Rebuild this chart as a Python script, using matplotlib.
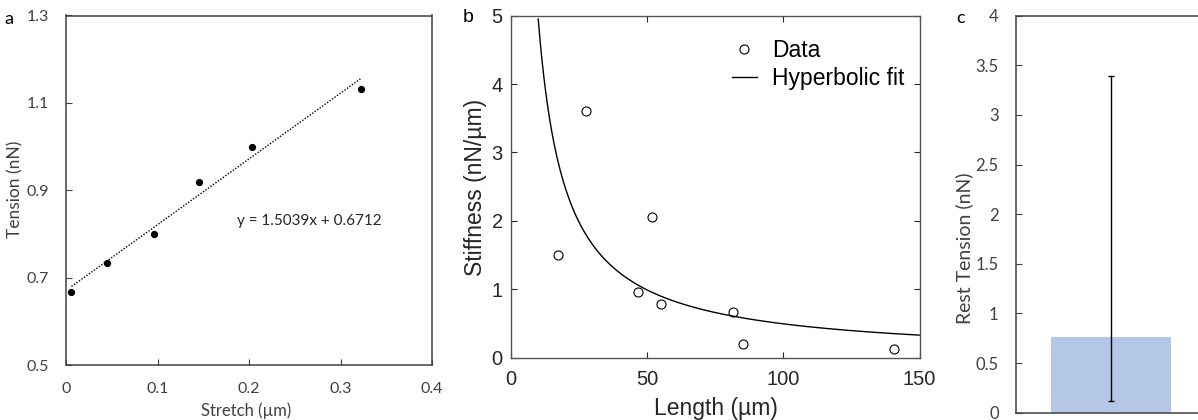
import numpy as np
import matplotlib
matplotlib.use("Agg")
import matplotlib.pyplot as plt

# ---- data ----
# panel a
stretch = [0.006, 0.045, 0.0965, 0.145, 0.203, 0.3225]
tension = [0.667, 0.735, 0.800, 0.919, 1.000, 1.132]
slope_a, intercept_a = 1.5039, 0.6712
eq_text = "y = 1.5039x + 0.6712"

# panel b
length_um = [17.1, 27.6, 46.8, 51.7, 54.9, 81.6, 85.1, 140.7]
stiffness = [1.495, 3.60, 0.964, 2.05, 0.78, 0.667, 0.205, 0.13]
hyp_coef = 49.5          # fit: stiffness = hyp_coef / length
fit_range = (10.0, 150.0)

# panel c
rest_mean = [0.763]
rest_err_low = [0.642]
rest_err_high = [2.627]

W, H = 1198, 420
fig = plt.figure(figsize=(W / 100, H / 100), dpi=100)

def px_axes(l, t, r, b):
    return fig.add_axes([l / W, 1 - b / H, (r - l) / W, (b - t) / H])

def px_text(x, y, s, **kw):
    return fig.text(x / W, 1 - y / H, s, ha='center', va='center', **kw)

calib = ['Lato', 'DejaVu Sans']
helv = ['Liberation Sans', 'DejaVu Sans']
grey = '#404040'

# ---------- panel a ----------
ax = px_axes(66, 15.5, 432, 365.3)
ax.plot(stretch, tension, 'o', color='black', ms=4.2)
xs = np.array([stretch[0], stretch[-1]])
ax.plot(xs, slope_a * xs + intercept_a, color='black', ls=(0, (1, 1.2)), lw=1)
ax.set_xlim(0, 0.4)
ax.set_ylim(0.5, 1.3)
ax.set_xticks([0, 0.1, 0.2, 0.3, 0.4])
ax.set_xticklabels(['0', '0.1', '0.2', '0.3', '0.4'])
ax.set_yticks([0.5, 0.7, 0.9, 1.1, 1.3])
ax.set_yticklabels(['0.5', '0.7', '0.9', '1.1', '1.3'])
ax.tick_params(direction='in', length=4, width=0.8, colors=grey, labelsize=11.5, pad=12)
for lab in ax.get_xticklabels() + ax.get_yticklabels():
    lab.set_family(calib)
for s in ax.spines.values():
    s.set_color(grey); s.set_linewidth(1.1)
ax.text(0.187, 0.831, eq_text, fontsize=11, family=calib, color='#262626', va='center', ha='left')
px_text(246, 411, 'Stretch (µm)', family=calib, fontsize=12, color=grey)
px_text(15, 189, 'Tension (nN)', family=calib, fontsize=12.5, color=grey, rotation=90)
px_text(9, 19, 'a', family=calib, fontsize=13)

# ---------- panel b ----------
bx = px_axes(511, 15.7, 919.5, 357.7)
xf = np.linspace(fit_range[0], fit_range[1], 400)
bx.plot(length_um, stiffness, 'o', mfc='white', mec='black', mew=0.8, ms=6.5, label='Data')
bx.plot(xf, hyp_coef / xf, color='black', lw=1, label='Hyperbolic fit')
bx.set_xlim(0, 150)
bx.set_ylim(0, 5)
bx.set_xticks([0, 50, 100, 150])
bx.set_yticks([0, 1, 2, 3, 4, 5])
bx.tick_params(direction='in', length=4, width=0.8, colors='#262626', labelsize=14.5,
               top=True, right=True)
bx.tick_params(axis='x', pad=9)
bx.tick_params(axis='y', pad=6)
for lab in bx.get_xticklabels() + bx.get_yticklabels():
    lab.set_family(helv)
for s in bx.spines.values():
    s.set_color('#555555'); s.set_linewidth(1.0)
px_text(716, 408, 'Length (µm)', family=helv, fontsize=16.5, color='#262626')
px_text(475, 187, 'Stiffness (nN/µm)', family=helv, fontsize=16.5, color='#262626', rotation=90)
leg = bx.legend(loc='upper right', bbox_to_anchor=(1.016, 0.995), frameon=False,
                prop={'family': helv, 'size': 16.5},
                handlelength=1.1, handletextpad=0.65, borderaxespad=0.55, labelspacing=0.22)
px_text(468, 18, 'b', family=helv, fontsize=14)

# ---------- panel c ----------
cx = px_axes(1016, 15.7, 1206, 412.7)
cx.bar([0], rest_mean, width=0.632, color='#b4c7e7',
       yerr=[rest_err_low, rest_err_high], ecolor='black', capsize=2.2,
       error_kw={'elinewidth': 1, 'capthick': 1})
cx.set_xlim(-0.5, 0.5)
cx.set_ylim(0, 4)
cx.set_xticks([])
cx.set_yticks([0, 0.5, 1, 1.5, 2, 2.5, 3, 3.5, 4])
cx.set_yticklabels(['0', '0.5', '1', '1.5', '2', '2.5', '3', '3.5', '4'])
cx.tick_params(direction='in', length=4, width=0.8, colors=grey, labelsize=12, pad=12.5)
for lab in cx.get_yticklabels():
    lab.set_family(calib)
for s in cx.spines.values():
    s.set_color(grey); s.set_linewidth(1.1)
px_text(964, 248, 'Rest Tension (nN)', family=calib, fontsize=14, color=grey, rotation=90)
px_text(961, 18, 'c', family=calib, fontsize=13)

fig.savefig('out.png', dpi=100)
